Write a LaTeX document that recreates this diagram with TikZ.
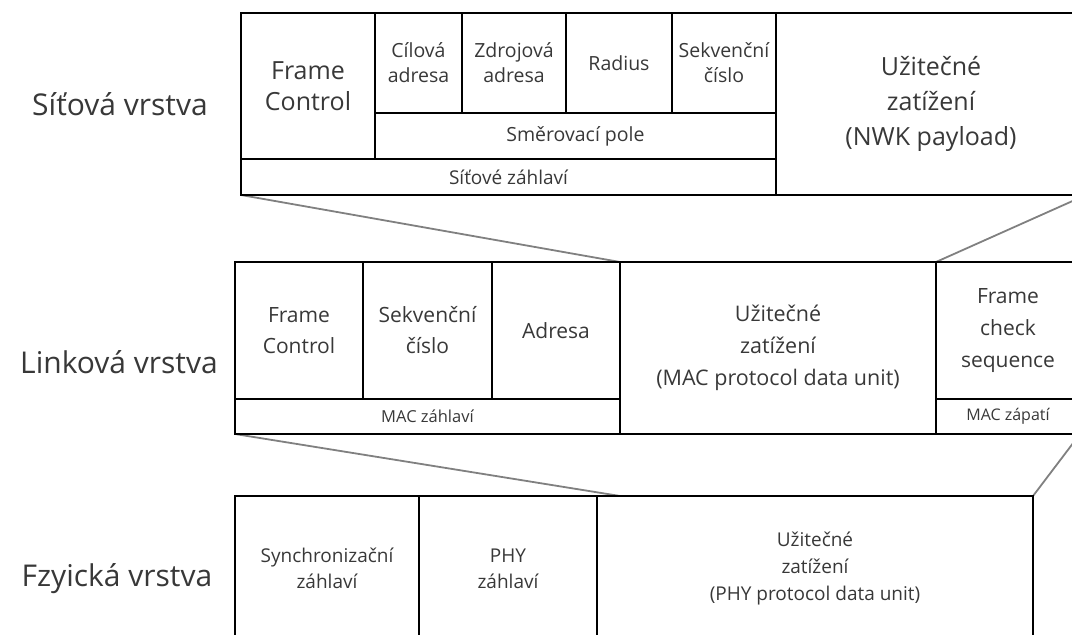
\documentclass[tikz,border=0pt]{standalone}
\usepackage{fontspec}
\setmainfont{Open Sans}
\newcommand{\myfs}[2]{\fontsize{#1pt}{#2pt}\selectfont}
\pgfdeclarelayer{background}
\pgfsetlayers{background,main}
\begin{document}
\begin{tikzpicture}[x=1pt,y=-1pt,
  box/.style={draw=black, line width=1.9pt, inner sep=0pt, outer sep=0pt, align=center, text=black!78},
  link/.style={draw=black!50, line width=1.8pt},
  lay/.style={text=black!78, font=\myfs{30}{36}, anchor=center}]
\useasboundingbox (0,0) rectangle (1072,635);
\clip (0,0) rectangle (1072,635);

% layer labels
\node[lay] (l1) at (120,104) {Síťová vrstva};
\node[lay] (l2) at (119,362) {Linková vrstva};
\node[lay] (l3) at (117,579) {Fzyická vrstva};

% network layer
\node[box, minimum width=134pt, minimum height=146pt, font=\myfs{25}{31}] (fc1) at (308,86) {Frame\\Control};
\node[box, minimum width=87pt, minimum height=100pt, font=\myfs{19.5}{25}] (dst) at (418.5,63) {Cílová\\adresa};
\node[box, minimum width=104pt, minimum height=100pt, font=\myfs{19.5}{25}] (src) at (514,63) {Zdrojová\\adresa};
\node[box, minimum width=106pt, minimum height=100pt, font=\myfs{19.5}{25}] (rad) at (619,63) {Radius};
\node[box, minimum width=104pt, minimum height=100pt, font=\myfs{19.5}{25}] (seq1) at (724,63) {Sekvenční\\číslo};
\node[box, minimum width=401pt, minimum height=46pt, font=\myfs{19.5}{25}] (route) at (575.5,136) {Směrovací pole};
\node[box, minimum width=535pt, minimum height=36pt, font=\myfs{19}{25}] (nwkhdr) at (508.5,177) {Síťové záhlaví};
\node[box, minimum width=310pt, minimum height=182pt, font=\myfs{25}{35}] (nwkpl) at (931,104) {Užitečné\\zatížení\\(NWK payload)};

% link layer
\node[box, minimum width=128pt, minimum height=137pt, font=\myfs{21}{31}] (fc2) at (299,330.5) {Frame\\Control};
\node[box, minimum width=129pt, minimum height=137pt, font=\myfs{21}{31}] (seq2) at (427.5,330.5) {Sekvenční\\číslo};
\node[box, minimum width=128pt, minimum height=137pt, font=\myfs{21}{31}] (adr) at (556,330.5) {Adresa};
\node[box, minimum width=385pt, minimum height=35pt, font=\myfs{16.5}{24}] (machdr) at (427.5,416.5) {MAC záhlaví};
\node[box, minimum width=316pt, minimum height=172pt, font=\myfs{21.5}{32}] (macpl) at (778,348) {Užitečné\\zatížení\\(MAC protocol data unit)};
\node[box, minimum width=144pt, minimum height=137pt, font=\myfs{21}{32}] (fcs) at (1008,330.5) {Frame\\check\\sequence};
\node[box, minimum width=144pt, minimum height=35pt, font=\myfs{16}{24}] (macftr) at (1008,416.5) {MAC zápatí};

% physical layer
\node[box, minimum width=184pt, minimum height=145pt, font=\myfs{19}{26}] (sync) at (327,568.5) {Synchronizační\\záhlaví};
\node[box, minimum width=178pt, minimum height=145pt, font=\myfs{19}{26}] (phy) at (508,568.5) {PHY\\záhlaví};
\node[box, minimum width=436pt, minimum height=145pt, font=\myfs{19}{27}] (phypl) at (815,568.5) {Užitečné\\zatížení\\(PHY protocol data unit)};

\coordinate (phyjoin) at (macpl.south west |- phypl.north);

\begin{pgfonlayer}{background}
\draw[link] (nwkhdr.south west) -- (macpl.north west);
\draw[link] (nwkpl.south east) -- (macpl.north east);
\draw[link] (machdr.south west) -- (phyjoin);
\draw[link] (macftr.south east) -- (phypl.north east);
\end{pgfonlayer}
\end{tikzpicture}
\end{document}
